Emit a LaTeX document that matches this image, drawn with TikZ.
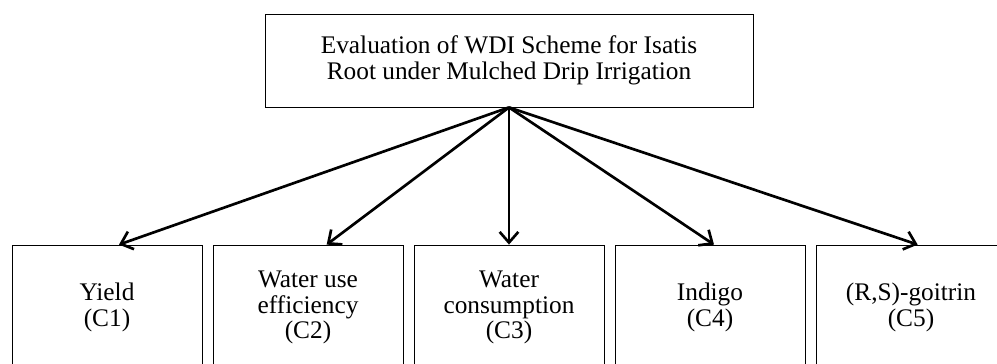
\documentclass[tikz,border=0pt]{standalone}
\usepackage{fontspec}
\setmainfont{Liberation Serif}
\usetikzlibrary{arrows.meta}
\begin{document}
\begin{tikzpicture}[x=0.75pt,y=-0.75pt,
	every node/.style={rectangle,draw,line width=0.6pt,align=center,inner sep=2pt,
		font=\fontsize{19}{19.2}\selectfont},
	crit/.style={minimum width=142.5pt,minimum height=93.75pt},
	shifted/.style={edge from parent path={(\tikzparentnode\tikzparentanchor) -- ([xshift=#1]\tikzchildnode\tikzchildanchor)}},
	level distance=185.25pt,sibling distance=150.75pt,
	parent anchor=south,child anchor=north,
	edge from parent/.style={draw,line width=2pt,-{Straight Barb[length=8pt,width=14pt,line width=2pt]}}]
\useasboundingbox (0,0) rectangle (997,364);
\clip (0,0) rectangle (997,364);
\node (goal) at (509,60.5) [minimum width=366pt,minimum height=69.75pt]
	{Evaluation of WDI Scheme for Isatis\\Root under Mulched Drip Irrigation}
child[shifted=9pt] {node (c1) [crit] {Yield\\(C1)}}
child[shifted=14pt] {node (c2) [crit] {Water use\\efficiency\\(C2)}}
child {node (c3) [crit] {Water\\consumption\\(C3)}}
child[shifted=3pt] {node (c4) [crit] {Indigo\\(C4)}}
child[shifted=5pt] {node (c5) [crit] {(R,S)-goitrin\\(C5)}};
\end{tikzpicture}
\end{document}
